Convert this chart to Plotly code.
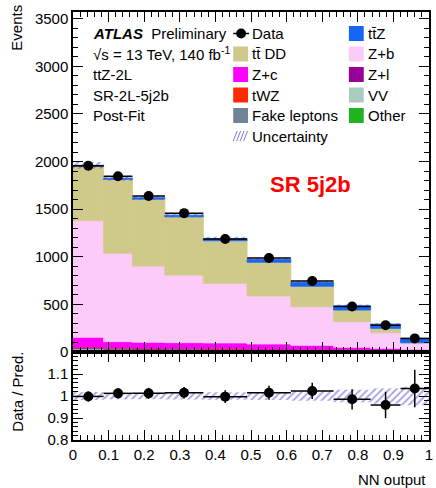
import numpy as np
import plotly.graph_objects as go

# ---------------- data ----------------
bin_edges = [0.0, 0.086, 0.167, 0.258, 0.366, 0.489, 0.612, 0.732, 0.836, 0.920, 1.0]

data_counts = [1955, 1845, 1638, 1458, 1187, 987, 745, 478, 281, 143]
data_errors = [44, 43, 40, 38, 34, 31, 27, 22, 17, 12]

other = [22, 20, 18, 17, 15, 13, 11, 9, 7, 5]
vv = [12, 10, 9, 8, 7, 6, 5, 4, 3, 2]
z_l = [8, 6, 5, 5, 4, 3, 3, 2, 1, 1]
fake_leptons = [6, 5, 5, 4, 4, 3, 3, 2, 2, 1]
twz = [4, 4, 4, 4, 5, 5, 6, 6, 6, 5]
z_c = [102, 63, 61, 60, 60, 54, 42, 26, 20, 14]
z_b = [1225, 928, 801, 710, 626, 504, 406, 269, 164, 67]
ttbar_dd = [571, 777, 702, 611, 447, 354, 214, 122, 45, 2]
ttz = [10, 12, 15, 18, 22, 30, 40, 45, 45, 41]

ratio_values = [0.998, 1.012, 1.012, 1.015, 0.997, 1.015, 1.023, 0.985, 0.959, 1.034]
ratio_errors = [0.023, 0.023, 0.025, 0.026, 0.029, 0.032, 0.037, 0.046, 0.060, 0.085]
rel_uncertainty = [0.018, 0.015, 0.015, 0.016, 0.017, 0.018, 0.022, 0.028, 0.035, 0.042]

x_tick_vals = [0, 0.1, 0.2, 0.3, 0.4, 0.5, 0.6, 0.7, 0.8, 0.9, 1.0]
x_tick_text = ["0", "0.1", "0.2", "0.3", "0.4", "0.5", "0.6", "0.7", "0.8", "0.9", "1"]
ratio_tick_vals = [0.8, 0.9, 1.0, 1.1]
ratio_tick_text = ["0.8", "0.9", "1", "1.1"]

# ---------------- styles ----------------
FONT = "Liberation Sans, Arial, Helvetica, sans-serif"
TB = "t\u0304"  # t-bar
components = [
    ("Other", other, "#1fb41f"),
    ("VV", vv, "#a9cbc0"),
    ("Z+l", z_l, "#990099"),
    ("Fake leptons", fake_leptons, "#6f8497"),
    ("tWZ", twz, "#ff2a00"),
    ("Z+c", z_c, "#ff00ff"),
    ("Z+b", z_b, "#fccbfa"),
    ("t" + TB + " DD", ttbar_dd, "#d0ca8a"),
    ("t" + TB + "Z", ttz, "#1566f5"),
]
HATCH = "#4c4cc8"

edges = np.array(bin_edges)
centers = 0.5 * (edges[:-1] + edges[1:])
widths = edges[1:] - edges[:-1]

fig = go.Figure()

base = np.zeros(len(centers))
for name, vals, col in components:
    v = np.array(vals, dtype=float)
    fig.add_trace(go.Bar(
        x=centers, y=v, base=base.copy(), width=widths, name=name,
        marker=dict(color=col, line=dict(width=0.8, color=col)),
        xaxis="x", yaxis="y", showlegend=False, hoverinfo="skip",
    ))
    base = base + v
total = base

unc = np.array(rel_uncertainty)
hatch_pattern = dict(shape="/", fgcolor=HATCH, bgcolor="rgba(0,0,0,0)", size=5, solidity=0.38)
# main-panel uncertainty band
fig.add_trace(go.Bar(
    x=centers, y=2 * total * unc, base=total * (1 - unc), width=widths,
    marker=dict(color="rgba(0,0,0,0)", line=dict(width=0), pattern=hatch_pattern),
    xaxis="x", yaxis="y", showlegend=False, hoverinfo="skip",
))
# data main
fig.add_trace(go.Scatter(
    x=centers, y=data_counts, mode="markers",
    marker=dict(color="black", size=10),
    error_y=dict(type="data", array=data_errors, color="black", thickness=1.5, width=0),
    error_x=dict(type="data", array=widths / 2, color="black", thickness=1.5, width=0),
    xaxis="x", yaxis="y", showlegend=False, hoverinfo="skip",
))
# ratio band
fig.add_trace(go.Bar(
    x=centers, y=2 * unc, base=1 - unc, width=widths,
    marker=dict(color="rgba(0,0,0,0)", line=dict(width=0), pattern=hatch_pattern),
    xaxis="x2", yaxis="y2", showlegend=False, hoverinfo="skip",
))
fig.add_trace(go.Scatter(
    x=centers, y=ratio_values, mode="markers",
    marker=dict(color="black", size=10),
    error_y=dict(type="data", array=ratio_errors, color="black", thickness=1.5, width=0),
    error_x=dict(type="data", array=widths / 2, color="black", thickness=1.5, width=0),
    xaxis="x2", yaxis="y2", showlegend=False, hoverinfo="skip",
))

# ---------------- layout ----------------
W, H = 436, 488
ML, MR, MT, MB = 73, 3, 12, 48
PW, PH = W - ML - MR, H - MT - MB
split = 88 / PH


def px(x):
    return (x - ML) / PW


def py(y):
    return (H - MB - y) / PH


axis_common = dict(
    showgrid=False, zeroline=False, showline=True, linecolor="black", linewidth=1.5,
    mirror="allticks", ticks="inside", ticklen=10, tickwidth=1.2, tickcolor="black",
    tickfont=dict(family=FONT, size=15, color="black"),
)
minor_common = dict(ticks="inside", ticklen=5, tickwidth=1, tickcolor="black", showgrid=False)

fig.update_layout(
    width=W, height=H,
    margin=dict(l=ML, r=MR, t=MT, b=MB, pad=0),
    paper_bgcolor="white", plot_bgcolor="white",
    barmode="overlay",
    font=dict(family=FONT, size=15, color="black"),
    xaxis=dict(domain=[0, 1], range=[0, 1], anchor="y", showticklabels=False,
               tickvals=x_tick_vals, minor=dict(dtick=0.02, **minor_common), **axis_common),
    yaxis=dict(domain=[split, 1], range=[0, 3570], anchor="x", dtick=500, tick0=0,
               minor=dict(dtick=100, **minor_common), **axis_common),
    xaxis2=dict(domain=[0, 1], range=[0, 1], anchor="y2", tickvals=x_tick_vals,
                ticktext=x_tick_text, minor=dict(dtick=0.02, **minor_common), **axis_common),
    yaxis2=dict(domain=[0, split], range=[0.8, 1.2], anchor="x2", tickvals=ratio_tick_vals,
                ticktext=ratio_tick_text, minor=dict(dtick=0.02, **minor_common), **axis_common),
)

ann = []
shapes = []


def text(x, y, s, size=15, xanchor="left", color="black", angle=0):
    ann.append(dict(x=px(x), y=py(y), xref="paper", yref="paper", text=s, showarrow=False,
                    xanchor=xanchor, yanchor="middle", textangle=angle,
                    font=dict(family=FONT, size=size, color=color)))


# header text
text(91, 33.5, "<b><i>ATLAS</i></b>  Preliminary")
text(91, 54, "\u221as = 13 TeV, 140 fb<sup>-1</sup>")
text(91, 74.5, "ttZ-2L")
text(91, 95, "SR-2L-5j2b")
text(91, 115.5, "Post-Fit")
text(313, 185, "<b>SR 5j2b</b>", size=22, xanchor="center", color="#ff0000")

# axis titles
text(15, 28, "Events", angle=-90, xanchor="center")
text(16, 392, "Data / Pred.", angle=-90, xanchor="center")
text(432, 479, "NN output", xanchor="right")

# legend
rows = [33.5, 54, 74.5, 95, 115.5, 136]
c1, c2 = 235, 352
bs = 15
legend_entries = [
    (c1, 1, "t" + TB + " DD", "#d0ca8a"),
    (c1, 2, "Z+c", "#ff00ff"),
    (c1, 3, "tWZ", "#ff2a00"),
    (c1, 4, "Fake leptons", "#6f8497"),
    (c2, 0, "t" + TB + "Z", "#1566f5"),
    (c2, 1, "Z+b", "#fccbfa"),
    (c2, 2, "Z+l", "#990099"),
    (c2, 3, "VV", "#a9cbc0"),
    (c2, 4, "Other", "#1fb41f"),
]
for cx, r, lab, col in legend_entries:
    yc = rows[r]
    shapes.append(dict(type="rect", xref="paper", yref="paper",
                       x0=px(cx), x1=px(cx + bs), y0=py(yc + bs / 2), y1=py(yc - bs / 2),
                       fillcolor=col, line=dict(width=0)))
    text(cx + bs + 2, yc, lab)

# Data legend symbol
yc = rows[0]
shapes.append(dict(type="line", xref="paper", yref="paper", x0=px(c1), x1=px(c1 + bs + 1),
                   y0=py(yc), y1=py(yc), line=dict(color="black", width=1.5)))
shapes.append(dict(type="circle", xref="paper", yref="paper", x0=px(c1 + 3), x1=px(c1 + 13),
                   y0=py(yc + 5), y1=py(yc - 5), fillcolor="black", line=dict(width=0)))
text(c1 + bs + 2, yc, "Data")

# Uncertainty legend symbol (hatched)
yc = rows[5]
for k in range(4):
    x0 = c1 + k * 3.5
    shapes.append(dict(type="line", xref="paper", yref="paper",
                       x0=px(x0), x1=px(x0 + 4), y0=py(yc + 5), y1=py(yc - 5),
                       line=dict(color="#7a7ad8", width=1)))
text(c1 + bs + 2, yc, "Uncertainty")

fig.update_layout(annotations=ann, shapes=shapes)

fig.write_html("out.html")
